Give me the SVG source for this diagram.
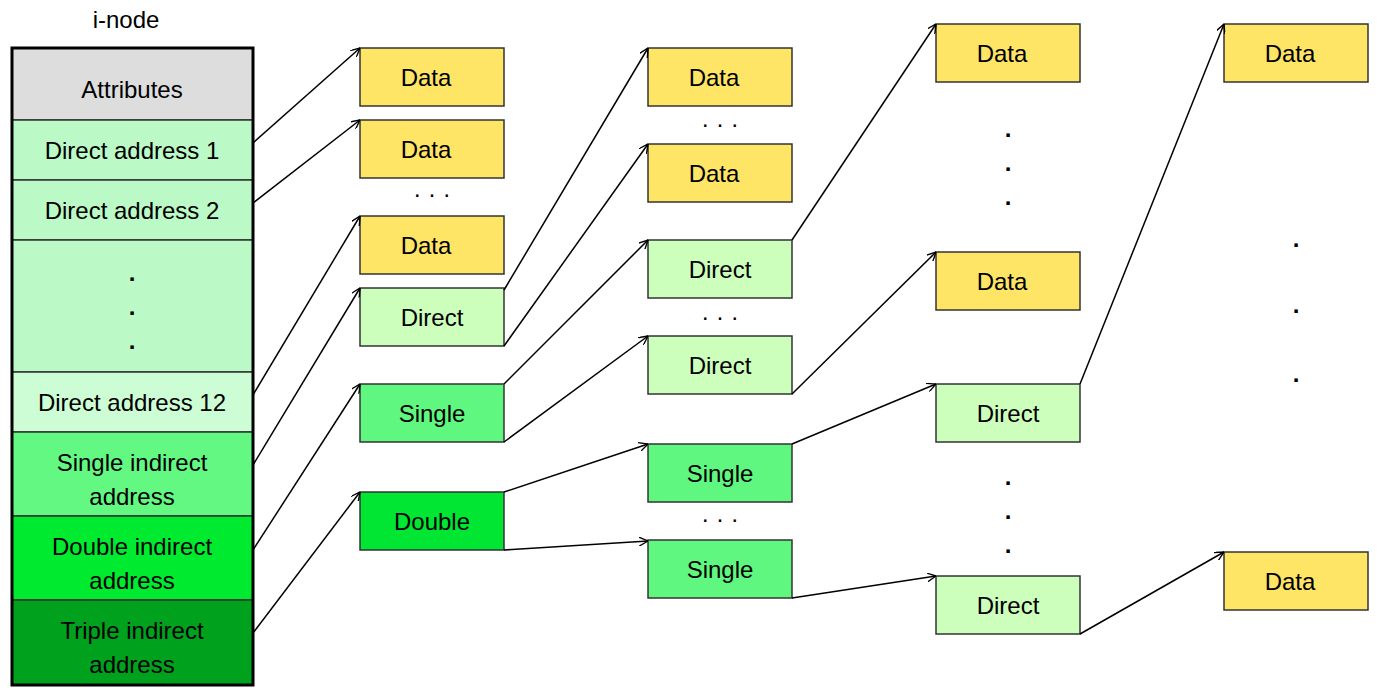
<svg xmlns="http://www.w3.org/2000/svg" width="1400" height="700" viewBox="0 0 1400 700">
<style>
text{font-family:"Liberation Sans",Arial,sans-serif;font-size:24px;fill:#000;text-anchor:middle;dominant-baseline:central}
.b{stroke:#333;stroke-width:1.5}
.data{fill:#ffe566}.dir{fill:#ccffbb}.sgl{fill:#5ff77f}.dbl{fill:#00e632}
.c line{stroke:#000;stroke-width:1.5;marker-end:url(#a)}
.dot{font-size:24px;font-weight:bold}
</style>
<defs><marker id="a" viewBox="0 0 10 10" refX="10" refY="5" markerWidth="9" markerHeight="9" orient="auto" markerUnits="userSpaceOnUse"><path d="M0,0 L10,5 L0,10" fill="none" stroke="#000" stroke-width="1.5"/></marker></defs>
<rect width="1400" height="700" fill="#fff"/>
<g id="inode">
<text x="126" y="19" font-size="26">i-node</text>
<rect x="12" y="48" width="241" height="72" fill="#dddddd" class="b"/><text x="132" y="89">Attributes</text>
<rect x="12" y="120" width="241" height="60" fill="#bbf9c6" class="b"/><text x="132" y="150">Direct address 1</text>
<rect x="12" y="180" width="241" height="60" fill="#bbf9c6" class="b"/><text x="132" y="210">Direct address 2</text>
<rect x="12" y="240" width="241" height="132" fill="#bbf9c6" class="b"/>
<text x="132" y="272" class="dot">.</text><text x="132" y="306" class="dot">.</text><text x="132" y="340" class="dot">.</text>
<rect x="12" y="372" width="241" height="60" fill="#ccfdd4" class="b"/><text x="132" y="402">Direct address 12</text>
<rect x="12" y="432" width="241" height="84" fill="#62f882" class="b"/><text x="132" y="462">Single indirect</text><text x="132" y="496">address</text>
<rect x="12" y="516" width="241" height="84" fill="#00ea2f" class="b"/><text x="132" y="546">Double indirect</text><text x="132" y="580">address</text>
<rect x="12" y="600" width="241" height="85" fill="#00a11d" class="b"/><text x="132" y="630">Triple indirect</text><text x="132" y="664">address</text>
<rect x="12" y="48" width="241" height="637" fill="none" stroke="#000" stroke-width="3"/>
</g>
<g id="c1d1"><rect x="360" y="48" width="144" height="58" class="b data"/><text x="426" y="77">Data</text></g>
<g id="c1d2"><rect x="360" y="120" width="144" height="58" class="b data"/><text x="426" y="149">Data</text></g>
<g id="c1d3"><rect x="360" y="216" width="144" height="58" class="b data"/><text x="426" y="245">Data</text></g>
<g id="c1dir"><rect x="360" y="288" width="144" height="58" class="b dir"/><text x="432" y="317">Direct</text></g>
<g id="c1sgl"><rect x="360" y="384" width="144" height="58" class="b sgl"/><text x="432" y="413">Single</text></g>
<g id="c1dbl"><rect x="360" y="492" width="144" height="58" class="b dbl"/><text x="432" y="521">Double</text></g>
<g id="c2d1"><rect x="648" y="48" width="144" height="58" class="b data"/><text x="714" y="77">Data</text></g>
<g id="c2d2"><rect x="648" y="144" width="144" height="58" class="b data"/><text x="714" y="173">Data</text></g>
<g id="c2dir1"><rect x="648" y="240" width="144" height="58" class="b dir"/><text x="720" y="269">Direct</text></g>
<g id="c2dir2"><rect x="648" y="336" width="144" height="58" class="b dir"/><text x="720" y="365">Direct</text></g>
<g id="c2sgl1"><rect x="648" y="444" width="144" height="58" class="b sgl"/><text x="720" y="473">Single</text></g>
<g id="c2sgl2"><rect x="648" y="540" width="144" height="58" class="b sgl"/><text x="720" y="569">Single</text></g>
<g id="c3d1"><rect x="936" y="24" width="144" height="58" class="b data"/><text x="1002" y="53">Data</text></g>
<g id="c3d2"><rect x="936" y="252" width="144" height="58" class="b data"/><text x="1002" y="281">Data</text></g>
<g id="c3dir1"><rect x="936" y="384" width="144" height="58" class="b dir"/><text x="1008" y="413">Direct</text></g>
<g id="c3dir2"><rect x="936" y="576" width="144" height="58" class="b dir"/><text x="1008" y="605">Direct</text></g>
<g id="c4d1"><rect x="1224" y="24" width="144" height="58" class="b data"/><text x="1290" y="53">Data</text></g>
<g id="c4d2"><rect x="1224" y="552" width="144" height="58" class="b data"/><text x="1290" y="581">Data</text></g>
<g id="dots">
<text x="432" y="193">· · ·</text><text x="720" y="123">· · ·</text><text x="720" y="316">· · ·</text><text x="720" y="518">· · ·</text>
<text x="1008" y="128" class="dot">.</text><text x="1008" y="162" class="dot">.</text><text x="1008" y="196" class="dot">.</text>
<text x="1008" y="476" class="dot">.</text><text x="1008" y="510" class="dot">.</text><text x="1008" y="544" class="dot">.</text>
<text x="1296" y="238" class="dot">.</text><text x="1296" y="304" class="dot">.</text><text x="1296" y="373" class="dot">.</text>
</g>
<g class="c" id="connectors">
<line x1="253" y1="143" x2="360" y2="48"/>
<line x1="253" y1="203" x2="360" y2="120"/>
<line x1="253" y1="395" x2="360" y2="216"/>
<line x1="253" y1="465" x2="360" y2="288"/>
<line x1="253" y1="550" x2="360" y2="384"/>
<line x1="253" y1="633" x2="360" y2="492"/>
<line x1="504" y1="290" x2="648" y2="48"/>
<line x1="504" y1="346" x2="648" y2="144"/>
<line x1="504" y1="384" x2="648" y2="240"/>
<line x1="504" y1="442" x2="648" y2="336"/>
<line x1="504" y1="492" x2="648" y2="444"/>
<line x1="504" y1="550" x2="648" y2="541"/>
<line x1="792" y1="240" x2="936" y2="24"/>
<line x1="792" y1="394" x2="936" y2="252"/>
<line x1="792" y1="444" x2="936" y2="384"/>
<line x1="792" y1="598" x2="936" y2="576"/>
<line x1="1080" y1="384" x2="1224" y2="24"/>
<line x1="1080" y1="634" x2="1224" y2="552"/>
</g>
</svg>
